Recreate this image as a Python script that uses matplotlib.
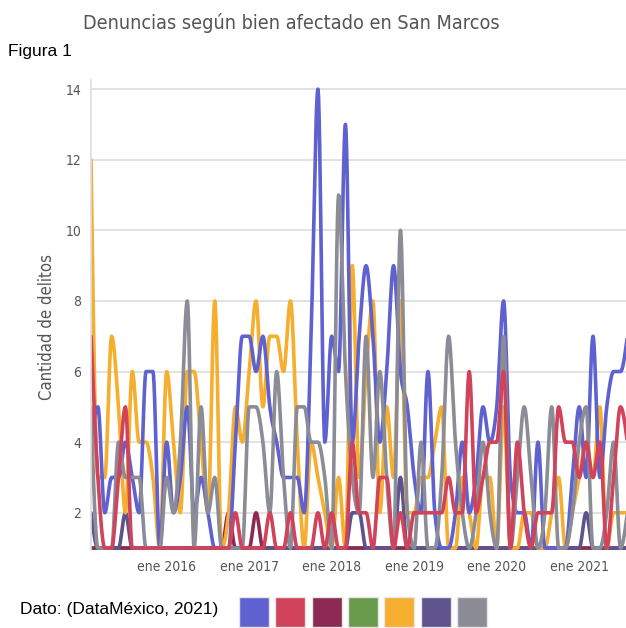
import numpy as np
import matplotlib
matplotlib.use('Agg')
import matplotlib.pyplot as plt
from matplotlib.patches import Rectangle

# meses desde feb 2015 hasta ago 2021
meses = list(range(79))
ticks_pos = [11, 23, 35, 47, 59, 71]
ticks_lab = ['ene 2016', 'ene 2017', 'ene 2018', 'ene 2019', 'ene 2020', 'ene 2021']

azul = [4, 5, 2, 3, 3, 4, 3, 2, 6, 6, 1, 4, 2, 3, 5, 2, 3, 2, 1, 1,
        1, 4, 7, 7, 6, 7, 5, 4, 3, 3, 3, 2, 7, 14, 4, 7, 6, 13, 4, 7,
        9, 7, 4, 6, 9, 6, 5, 3, 2, 6, 2, 1, 1, 2, 4, 2, 3, 5, 4, 5,
        8, 3, 2, 2, 1, 4, 1, 1, 1, 1, 3, 5, 3, 7, 3, 5, 6, 6, 7]
rojo = [7, 3, 1, 1, 3, 5, 1, 1, 1, 1, 1, 1, 1, 1, 1, 1, 1, 1, 1, 1,
        1, 2, 1, 1, 1, 1, 2, 1, 1, 2, 1, 1, 1, 2, 1, 2, 1, 1, 4, 2,
        2, 1, 3, 3, 1, 2, 1, 2, 2, 2, 2, 2, 3, 2, 2, 6, 2, 3, 4, 4,
        6, 1, 4, 2, 1, 2, 2, 2, 5, 4, 4, 3, 4, 3, 4, 1, 3, 5, 4]
guinda = [1] * 20 + [2, 1, 1, 1, 2] + [1] * 54
verde = [1] * 79
amarillo = [12, 3, 3, 7, 5, 2, 6, 4, 4, 3, 1, 6, 4, 2, 6, 6, 4, 2, 8, 1,
            2, 5, 4, 6, 8, 5, 7, 7, 6, 8, 4, 1, 4, 3, 2, 1, 3, 1, 9, 3,
            6, 8, 2, 5, 3, 8, 2, 2, 3, 3, 4, 5, 1, 1, 3, 2, 1, 3, 3, 1,
            5, 1, 1, 2, 2, 1, 1, 2, 3, 1, 2, 3, 4, 3, 5, 1, 2, 2, 2]
morado = [2, 1, 1, 1, 1, 2, 1, 1, 1, 1, 1, 1, 1, 1, 1, 1, 1, 1, 1, 1,
          1, 1, 1, 1, 1, 1, 1, 1, 1, 1, 1, 1, 1, 1, 1, 1, 1, 1, 2, 2,
          1, 1, 1, 1, 1, 3, 1, 1, 1, 1, 1, 1, 1, 1, 1, 1, 1, 1, 1, 1,
          1, 1, 1, 1, 1, 1, 1, 1, 1, 1, 1, 1, 2, 1, 1, 1, 1, 1, 1]
gris = [5, 1, 1, 1, 4, 3, 3, 3, 1, 1, 1, 3, 2, 4, 8, 1, 5, 2, 3, 1,
        1, 1, 1, 5, 5, 4, 2, 6, 3, 1, 5, 5, 4, 4, 3, 1, 11, 6, 3, 2,
        7, 3, 6, 3, 1, 10, 2, 1, 4, 1, 1, 3, 7, 4, 2, 1, 2, 4, 2, 1,
        7, 1, 3, 5, 3, 1, 2, 5, 1, 1, 2, 4, 5, 1, 1, 2, 4, 1, 2]

colores = ['#5f61d0', '#d0435a', '#8c2a53', '#6a9a4b', '#f5ae2e', '#5e538d', '#8c8c96']


def suavizar(y, k=12):
    # curva monotona tipo d3.curveMonotoneX
    y = np.asarray(y, float)
    n = len(y)
    s = np.diff(y)
    t = np.zeros(n)
    for i in range(1, n - 1):
        s0, s1 = s[i - 1], s[i]
        p = (s0 + s1) / 2
        t[i] = (np.sign(s0) + np.sign(s1)) * min(abs(s0), abs(s1), 0.5 * abs(p))
    t[0] = (3 * s[0] - t[1]) / 2
    t[-1] = (3 * s[-1] - t[-2]) / 2
    xs, ys = [], []
    u = np.linspace(0, 1, k, endpoint=False)
    for i in range(n - 1):
        h00 = 2 * u**3 - 3 * u**2 + 1
        h10 = u**3 - 2 * u**2 + u
        h01 = -2 * u**3 + 3 * u**2
        h11 = u**3 - u**2
        xs.append(i + u)
        ys.append(h00 * y[i] + h10 * t[i] + h01 * y[i + 1] + h11 * t[i + 1])
    xs.append([n - 1])
    ys.append([y[-1]])
    return np.concatenate(xs), np.concatenate(ys)


fuente = 'DejaVu Sans'
estira = 'condensed'  # DejaVu Sans Condensed

fig = plt.figure(figsize=(6.26, 6.28), dpi=100)
ax = fig.add_axes([0.1454, 0.1245, 0.8546, 0.7476])

series = [(verde, colores[3]), (guinda, colores[2]), (morado, colores[5]),
          (amarillo, colores[4]), (azul, colores[0]), (gris, colores[6]),
          (rojo, colores[1])]
for datos, c in series:
    xs, ys = suavizar(datos)
    ax.plot(xs, ys, color=c, lw=2.6, solid_capstyle='round')

ax.set_xlim(0, 77.8)
ax.set_ylim(0.95, 14.25)
ax.set_yticks([2, 4, 6, 8, 10, 12, 14])
ax.set_xticks(ticks_pos)
ax.set_xticklabels(ticks_lab)
ax.grid(axis='y', color='#dddddd', lw=1.2)
ax.set_axisbelow(True)
for lado in ['top', 'right', 'bottom']:
    ax.spines[lado].set_visible(False)
ax.spines['left'].set_color('#dddddd')
ax.spines['left'].set_linewidth(1.2)
ax.tick_params(length=0, colors='#555555', labelsize=10, pad=7)
for lab in ax.get_xticklabels() + ax.get_yticklabels():
    lab.set_family(fuente)
    lab.set_stretch(estira)

fig.text(0.466, 0.963, 'Denuncias según bien afectado en San Marcos', ha='center', va='center',
         fontsize=14.2, color='#555555', family=fuente, stretch=estira)
fig.text(0.013, 0.918, 'Figura 1', ha='left', va='center', fontsize=12.5, color='black',
         family='Liberation Sans')
fig.text(0.075, 0.479, 'Cantidad de delitos', ha='center', va='center', rotation=90,
         fontsize=12, color='#555555', family=fuente, stretch=estira)
fig.text(0.032, 0.030, 'Dato: (DataMéxico, 2021)', ha='left', va='center', fontsize=12.5,
         color='black', family='Liberation Sans')

x0 = 239
for k, c in enumerate(colores):
    fig.patches.append(Rectangle(((x0 + 36.3 * k) / 626, 0.002), 30 / 626, 30 / 628,
                                 transform=fig.transFigure, facecolor=c,
                                 edgecolor='#e6e6e6', lw=1))

fig.savefig('out.png', dpi=100)
